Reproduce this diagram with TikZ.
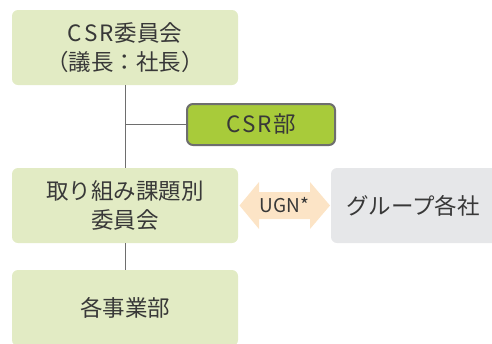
\documentclass[tikz,border=0pt]{standalone}
\usepackage{fontspec}
\setmainfont{Noto Sans CJK JP}
\definecolor{boxgreen}{HTML}{E2EBC4}
\definecolor{csrgreen}{HTML}{A8CB3A}
\definecolor{peach}{HTML}{FCE4C6}
\definecolor{boxgray}{HTML}{E6E7E9}
\definecolor{txt}{HTML}{383838}
\definecolor{linegray}{HTML}{6E6E6E}
\newcommand{\csrtxt}{C\kern2pt S\kern2pt R\kern1pt}
\tikzset{
  lbox/.style={fill=boxgreen, rounded corners=6pt, draw=none, minimum width=226pt, minimum height=75pt, align=center, text=txt, font=\fontsize{22.5pt}{29pt}\selectfont, inner sep=0pt},
  csrbox/.style={fill=csrgreen, draw=linegray, line width=2pt, rounded corners=6pt, minimum width=148pt, minimum height=41pt, text=txt, font=\fontsize{22.5pt}{24pt}\selectfont, inner sep=0pt},
  graybox/.style={fill=boxgray, rounded corners=6pt, minimum width=170pt, minimum height=75pt, text=txt, font=\fontsize{22.5pt}{24pt}\selectfont, inner sep=0pt},
  conn/.style={draw=linegray, line width=1pt},
  ugnarrow/.style={fill=peach, draw=none},
  ugntext/.style={text=txt, font=\fontsize{19pt}{20pt}\selectfont, inner sep=0pt}
}
\begin{document}
\begin{tikzpicture}[x=1pt,y=-1pt]
\useasboundingbox (0,0) rectangle (492,343);
\node[lbox] (csr) at (125,47.5) {\csrtxt 委員会\\（議長：社長）};
\node[lbox] (kadai) at (125,205.5) {取り組み課題別\\委員会};
\node[lbox, minimum height=76pt] (jigyo) at (125,308) {各事業部};
\node[csrbox] (csrbu) at (261,124.5) {\csrtxt 部};
\node[graybox] (group) at (416,205.5) {\hspace*{-6pt}グループ各社};
\coordinate (branch) at (csr.south |- csrbu.west);
\draw[conn] (csr.south) -- (kadai.north);
\draw[conn] (branch) -- (csrbu.west);
\draw[conn] (kadai.south) -- (jigyo.north);
\fill[ugnarrow] (239.5,205.5) -- (259,182) -- (259,192) -- (310,192) -- (310,182)
  -- (330,205.5) -- (310,229) -- (310,219) -- (259,219) -- (259,229) -- cycle;
\node[ugntext] (ugn) at (284.5,205.5) {UGN*};
\end{tikzpicture}
\end{document}
